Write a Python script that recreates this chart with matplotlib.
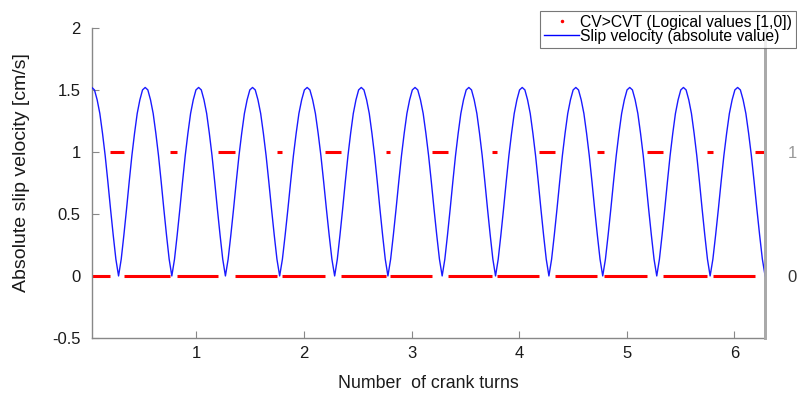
import numpy as np
import matplotlib
matplotlib.use("Agg")
import matplotlib.pyplot as plt
from matplotlib.lines import Line2D

plt.rcParams["font.family"] = ["Liberation Sans", "DejaVu Sans"]

# zero crossings of the slip velocity (crank turns)
cusp_turns = [-0.22, 0.277, 0.772, 1.27, 1.774, 2.285, 2.78, 3.284,
              3.78, 4.276, 4.776, 5.278, 5.774, 6.285]
# shape of one arch between two zero crossings (fraction of arch, cm/s)
arch_frac = [0.0, 0.05, 0.1, 0.15, 0.2, 0.25, 0.3, 0.35, 0.4, 0.45, 0.5,
             0.55, 0.6, 0.65, 0.7, 0.75, 0.8, 0.85, 0.9, 0.95, 1.0]
arch_vals = [0.0, 0.135, 0.33, 0.54, 0.76, 0.97, 1.15, 1.31, 1.42, 1.50, 1.52,
             1.50, 1.42, 1.31, 1.15, 0.97, 0.76, 0.54, 0.33, 0.135, 0.0]

# intervals where CV>CVT is true (logical 1), in crank turns
on_start = [0.199, 0.751, 1.200, 1.749, 2.193, 2.760, 3.185,
            3.749, 4.186, 4.726, 5.191, 5.743, 6.193]
on_end = [0.332, 0.819, 1.355, 1.799, 2.348, 2.797, 3.340,
          3.790, 4.332, 4.788, 5.340, 5.805, 6.292]

x_min, x_max = 0.03, 6.285
y_ticks = [-0.5, 0, 0.5, 1, 1.5, 2]
x_ticks = [1, 2, 3, 4, 5, 6]

# build the slip velocity trace from the arches
xs, ys = [], []
for c0, c1 in zip(cusp_turns[:-1], cusp_turns[1:]):
    xs.extend(c0 + np.array(arch_frac) * (c1 - c0))
    ys.extend(arch_vals)
xs = np.array(xs)
ys = np.array(ys)

# logical 0 segments are the gaps between the 1 segments
off_start = [x_min] + on_end[:-1]
off_end = on_start

fig = plt.figure(figsize=(7.97, 3.99), dpi=100)
ax = fig.add_axes([0.1154, 0.153, 0.8446, 0.777])

red = "#ff0000"
blue = "#1a1aff"
fs = 12
ax.hlines([1] * len(on_start), on_start, on_end, colors=red, linewidth=2.2, zorder=2)
ax.hlines([0] * len(off_start), off_start, off_end, colors=red, linewidth=2.2, zorder=2)
ax.plot(xs, ys, color=blue, linewidth=1.0, zorder=3)

ax.set_xlim(x_min, x_max)
ax.set_ylim(-0.5, 2)
ax.set_yticks(y_ticks)
ax.set_yticklabels(["-0.5", "0", "0.5", "1", "1.5", "2"])
ax.set_xticks(x_ticks)
ax.set_xticklabels([str(t) for t in x_ticks])
ax.tick_params(direction="in", length=5, width=0.8, color="#888888",
               labelsize=fs, labelcolor="#1a1a1a")
ax.tick_params(axis="x", pad=6)
ax.tick_params(axis="y", pad=8)

ax.spines["top"].set_visible(False)
for side in ["left", "bottom"]:
    ax.spines[side].set_color("#888888")
    ax.spines[side].set_linewidth(1.0)
ax.spines["right"].set_color("#aaaaaa")
ax.spines["right"].set_linewidth(2.0)

ax.set_xlabel("Number  of crank turns", fontsize=12.8, color="#1a1a1a", labelpad=10)
ax.set_ylabel("Absolute slip velocity [cm/s]", fontsize=14, color="#1a1a1a")
ax.yaxis.set_label_coords(-0.092, 0.532)

# right hand logical axis
ax2 = ax.twinx()
ax2.set_ylim(-0.5, 2)
ax2.set_yticks([0, 1])
ax2.set_yticklabels(["0", "1"])
ax2.tick_params(axis="y", length=0, pad=16, labelsize=fs)
ax2.get_yticklabels()[0].set_color("#333333")
ax2.get_yticklabels()[1].set_color("#999999")
for side in ["top", "left", "bottom"]:
    ax2.spines[side].set_visible(False)
ax2.spines["right"].set_color("#aaaaaa")
ax2.spines["right"].set_linewidth(2.0)

handles = [Line2D([], [], color=red, marker=".", markersize=3, linestyle="none"),
           Line2D([], [], color="#0000ff", linewidth=1.0)]
labels = ["CV>CVT (Logical values [1,0])", "Slip velocity (absolute value)"]
leg = fig.legend(handles, labels, loc="upper right",
                 bbox_to_anchor=(0.999, 0.973), fontsize=11.3,
                 frameon=True, fancybox=False, borderpad=0.25,
                 labelspacing=-0.05, handlelength=2.2, handletextpad=0.1,
                 borderaxespad=0.0)
leg.get_frame().set_edgecolor("#555555")
leg.get_frame().set_linewidth(0.8)

fig.savefig("out.png", dpi=100)
